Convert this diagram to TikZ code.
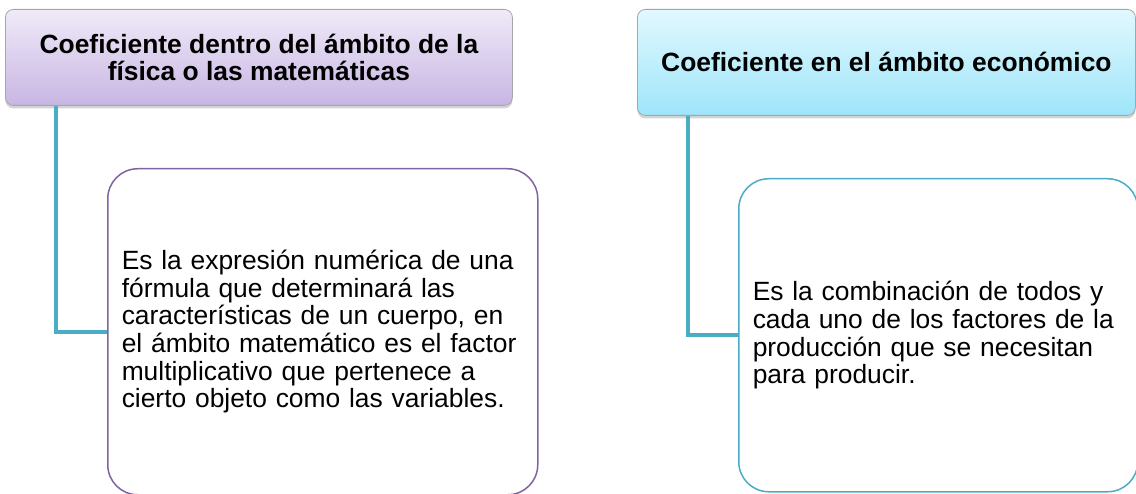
\documentclass[tikz,border=0pt]{standalone}
\usepackage{fontspec}
\setmainfont{Liberation Sans}
\usetikzlibrary{shadows}
\definecolor{lilaTop}{RGB}{240,234,248}
\definecolor{lilaBot}{RGB}{199,182,227}
\definecolor{cielTop}{RGB}{226,248,254}
\definecolor{cielBot}{RGB}{158,229,250}
\definecolor{lila}{RGB}{128,100,162}
\definecolor{turq}{RGB}{75,172,198}
\begin{document}
\begin{tikzpicture}[x=1pt,y=-1pt,
  hdr/.style={draw=gray!70,line width=0.8pt,rounded corners=8pt,anchor=north west,inner sep=0pt,
    align=center,font=\fontsize{26.4}{27}\selectfont\bfseries,
    drop shadow={opacity=0.35,shadow xshift=0pt,shadow yshift=-3pt}},
  card/.style={draw,line width=1.5pt,fill=white,rounded corners=30pt,anchor=north west,
    inner xsep=14pt,inner ysep=0pt,align=left,font=\fontsize{26.4}{27.6}\selectfont},
  link/.style={turq,line width=4pt}]
  \useasboundingbox (0,0) rectangle (1136,494);
  \node[hdr,top color=lilaTop,bottom color=lilaBot,minimum width=507pt,minimum height=96pt] (hdrA) at (5,9)
    {Coeficiente dentro del ámbito de la\\física o las matemáticas};
  \node[hdr,top color=cielTop,bottom color=cielBot,minimum width=498pt,minimum height=106pt] (hdrB) at (637,9)
    {Coeficiente en el ámbito económico};
  \node[card,draw=lila,text width=402pt,minimum height=326pt] (boxA) at (107,168)
    {Es la expresión numérica de una\\fórmula que determinará las\\características de un cuerpo, en\\el ámbito matemático es el factor\\multiplicativo que pertenece a\\cierto objeto como las variables.};
  \node[card,draw=turq,text width=371pt,minimum height=313pt] (boxB) at (738,178)
    {Es la combinación de todos y\\cada uno de los factores de la\\producción que se necesitan\\para producir.};
  \draw[link] ([xshift=51pt]hdrA.south west) |- (boxA.west);
  \draw[link] ([xshift=51pt]hdrB.south west) |- (boxB.west);
\end{tikzpicture}
\end{document}
